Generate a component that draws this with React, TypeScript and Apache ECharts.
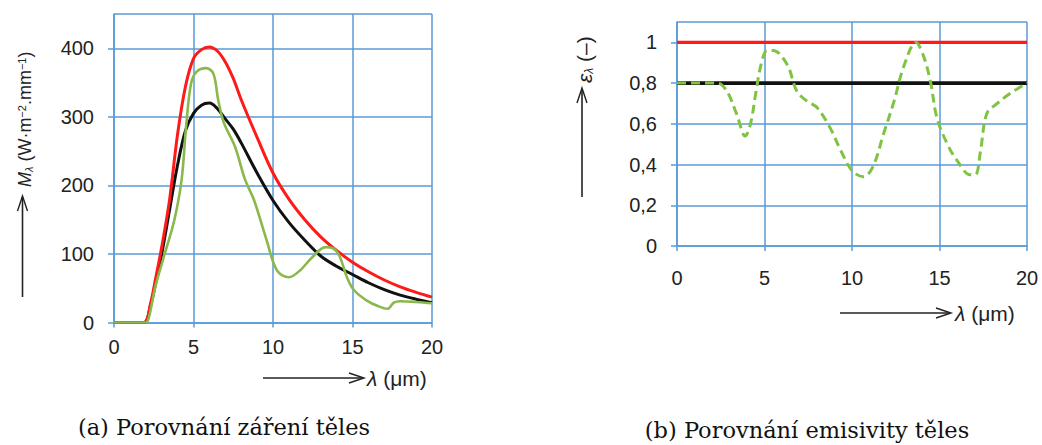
import React, { useEffect, useRef } from "react";
import * as echarts from "echarts";

// ---- Chart (a): spectral exitance M_lambda (W·m^-2·mm^-1) ----
const lambdaA = [0, 1, 1.9, 2.3, 2.6, 3, 3.5, 4, 4.5, 5, 5.5, 6, 6.5, 7, 7.5, 8, 9, 10, 11, 12, 13, 14, 15, 16, 17, 18, 19, 20];
const blackBodyA = [0, 0, 0, 28, 62, 110, 180, 275, 345, 385, 398, 402, 396, 380, 356, 325, 270, 218, 180, 150, 125, 105, 88, 74, 62, 52, 44, 37];
const greyBodyA = [0, 0, 0, 25, 55, 100, 165, 230, 280, 305, 317, 320, 312, 297, 282, 262, 218, 178, 146, 120, 97, 82, 70, 58, 48, 40, 34, 29];
const lambdaSel = [0, 1, 2.0, 2.2, 2.6, 3.2, 3.8, 4.25, 4.55, 4.85, 5.2, 5.8, 6.25, 6.55, 6.9, 7.6, 8.25, 8.8, 9.6, 10.25, 11.0, 11.7, 12.5, 13.3, 13.8, 14.2, 14.65, 15.1, 15.9, 16.6, 17.2, 17.6, 18.0, 19, 20];
const selectiveA = [0, 0, 0, 8, 52, 101, 150, 208, 290, 349, 366, 371, 363, 325, 292, 257, 208, 179, 120, 76, 66, 76, 96, 110, 108, 96, 66, 47, 32, 24, 20, 29, 31, 30, 28];

// ---- Chart (b): emissivity epsilon_lambda (-) ----
const lambdaB = [0, 20];
const emisBlack = [1, 1];
const emisGrey = [0.8, 0.8];
const lambdaSelB = [0, 2.3, 2.85, 3.4, 3.9, 4.2, 4.5, 4.8, 5.15, 5.5, 6.3, 6.85, 7.45, 8.0, 8.75, 9.35, 10.0, 10.65, 11.2, 11.8, 12.4, 12.95, 13.65, 14.1, 14.5, 14.85, 15.45, 16.0, 16.75, 17.05, 17.35, 17.7, 18.3, 19.05, 20];
const emisSel = [0.8, 0.8, 0.76, 0.65, 0.54, 0.6, 0.75, 0.89, 0.96, 0.96, 0.89, 0.76, 0.71, 0.68, 0.58, 0.47, 0.37, 0.34, 0.39, 0.55, 0.71, 0.88, 1.0, 0.93, 0.8, 0.63, 0.5, 0.42, 0.35, 0.35, 0.47, 0.65, 0.7, 0.75, 0.8];

const captionA = "(a) Porovnání záření těles";
const captionB = "(b) Porovnání emisivity těles";

const zip = (xs: number[], ys: number[]) => xs.map((x, i) => [x, ys[i]]);

const GRID = "#5a9ad6";
const TXT = "#222";
const RED = "#ff1a1a";
const BLK = "#111111";
const GRN = "#8ab84a";

const axisCommon = {
  axisLine: { show: true, lineStyle: { color: GRID, width: 1.5 } },
  axisTick: { show: true, length: 6, lineStyle: { color: GRID, width: 1.5 } },
  splitLine: { show: true, lineStyle: { color: GRID, width: 1.5 } },
};

function arrowUp(x: number, yBottom: number, yTop: number) {
  return [
    { type: "line", shape: { x1: x, y1: yBottom, x2: x, y2: yTop + 1 }, style: { stroke: "#222", lineWidth: 1.6 } },
    { type: "polyline", shape: { points: [[x - 5, yTop + 15], [x, yTop], [x + 5, yTop + 15]] }, style: { stroke: "#222", lineWidth: 1.4, fill: null } },
  ];
}
function arrowRight(xLeft: number, xRight: number, y: number) {
  return [
    { type: "line", shape: { x1: xLeft, y1: y, x2: xRight - 1, y2: y }, style: { stroke: "#222", lineWidth: 1.6 } },
    { type: "polyline", shape: { points: [[xRight - 15, y - 5], [xRight, y], [xRight - 15, y + 5]] }, style: { stroke: "#222", lineWidth: 1.4, fill: null } },
  ];
}

export default function App() {
  const ref = useRef<HTMLDivElement>(null);
  useEffect(() => {
    if (!ref.current) return;
    const chart = echarts.init(ref.current, undefined, { renderer: "svg" });
    const labelFont = { fontFamily: "Liberation Sans", color: TXT };
    const option: any = {
      animation: false,
      backgroundColor: "#ffffff",
      grid: [
        { left: 114, top: 14, width: 318, height: 308.5 },
        { left: 677, top: 22, width: 350, height: 224 },
      ],
      xAxis: [
        {
          gridIndex: 0, type: "value", min: 0, max: 20, interval: 5, ...axisCommon,
          axisTick: { show: true, length: 5, lineStyle: { color: GRID, width: 1.5 } },
          axisLabel: { ...labelFont, fontSize: 20, margin: 14 },
        },
        {
          gridIndex: 1, type: "value", min: 0, max: 20, interval: 5, ...axisCommon,
          axisTick: { show: true, length: 5, lineStyle: { color: GRID, width: 1.5 } },
          axisLabel: { ...labelFont, fontSize: 20, margin: 22 },
        },
      ],
      yAxis: [
        {
          gridIndex: 0, type: "value", min: 0, max: 450, interval: 100, ...axisCommon,
          axisLabel: { ...labelFont, fontSize: 20, margin: 20, showMaxLabel: false },
        },
        {
          gridIndex: 1, type: "value", min: 0, max: 1.1, interval: 0.2, ...axisCommon,
          axisLabel: {
            ...labelFont, fontSize: 20, margin: 20, showMaxLabel: false,
            formatter: (v: number) => String(Number(v.toFixed(1))).replace(".", ","),
          },
        },
      ],
      series: [
        { type: "line", xAxisIndex: 0, yAxisIndex: 0, data: zip(lambdaA, greyBodyA), smooth: 0.35, showSymbol: false, lineStyle: { color: BLK, width: 3 }, z: 2 },
        { type: "line", xAxisIndex: 0, yAxisIndex: 0, data: zip(lambdaA, blackBodyA), smooth: 0.35, showSymbol: false, lineStyle: { color: RED, width: 3 }, z: 3 },
        { type: "line", xAxisIndex: 0, yAxisIndex: 0, data: zip(lambdaSel, selectiveA), smooth: 0.35, showSymbol: false, lineStyle: { color: GRN, width: 2.6 }, z: 4 },
        { type: "line", xAxisIndex: 1, yAxisIndex: 1, data: zip(lambdaB, emisBlack), showSymbol: false, lineStyle: { color: RED, width: 3.2 }, z: 2 },
        { type: "line", xAxisIndex: 1, yAxisIndex: 1, data: zip(lambdaB, emisGrey), showSymbol: false, lineStyle: { color: BLK, width: 3.6 }, z: 3 },
        { type: "line", xAxisIndex: 1, yAxisIndex: 1, data: zip(lambdaSelB, emisSel), smooth: 0.35, showSymbol: false, lineStyle: { color: "#80c342", width: 3, type: [9, 5] }, z: 4 },
      ],
      graphic: [
        ...arrowUp(22.5, 297, 196),
        {
          type: "text", x: 25, y: 187, rotation: Math.PI / 2,
          style: {
            text: "{i|M}{s|λ} (W·m{p|−2}.mm{p|−1})",
            fontFamily: "Liberation Sans", fontSize: 18, fill: TXT,
            textAlign: "left", textVerticalAlign: "middle",
            rich: {
              i: { fontStyle: "italic", fontSize: 18, fontFamily: "Liberation Sans", fill: TXT },
              s: { fontStyle: "italic", fontSize: 11, verticalAlign: "bottom", fontFamily: "Liberation Sans", fill: TXT },
              p: { fontSize: 11, verticalAlign: "top", fontFamily: "Liberation Sans", fill: TXT },
            },
          },
        },
        ...arrowRight(263, 364, 378),
        {
          type: "text", x: 367, y: 378,
          style: {
            text: "{i|λ} (μm)", fontFamily: "Liberation Sans", fontSize: 21, fill: TXT,
            textAlign: "left", textVerticalAlign: "middle",
            rich: { i: { fontStyle: "italic", fontSize: 21, fontFamily: "Liberation Sans", fill: TXT } },
          },
        },
        ...arrowUp(582, 197, 88),
        {
          type: "text", x: 584, y: 83, rotation: Math.PI / 2,
          style: {
            text: "{i|ε}{s|λ} (–)", fontFamily: "Liberation Sans", fontSize: 21, fill: TXT,
            textAlign: "left", textVerticalAlign: "middle",
            rich: {
              i: { fontStyle: "italic", fontSize: 21, fontFamily: "Liberation Sans", fill: TXT },
              s: { fontStyle: "italic", fontSize: 12, verticalAlign: "bottom", fontFamily: "Liberation Sans", fill: TXT },
            },
          },
        },
        ...arrowRight(840, 951, 313),
        {
          type: "text", x: 955, y: 313,
          style: {
            text: "{i|λ} (μm)", fontFamily: "Liberation Sans", fontSize: 21, fill: TXT,
            textAlign: "left", textVerticalAlign: "middle",
            rich: { i: { fontStyle: "italic", fontSize: 21, fontFamily: "Liberation Sans", fill: TXT } },
          },
        },
        {
          type: "text", x: 224, y: 427,
          style: { text: captionA, fontFamily: "DejaVu Serif", fontSize: 22.5, fill: "#111", textAlign: "center", textVerticalAlign: "middle" },
        },
        {
          type: "text", x: 807, y: 430,
          style: { text: captionB, fontFamily: "DejaVu Serif", fontSize: 22.5, fill: "#111", textAlign: "center", textVerticalAlign: "middle" },
        },
      ],
    };
    chart.setOption(option);
    return () => chart.dispose();
  }, []);
  return <div ref={ref} style={{ position: "fixed", left: 0, top: 0, width: 1042, height: 445, background: "#fff" }} />;
}
